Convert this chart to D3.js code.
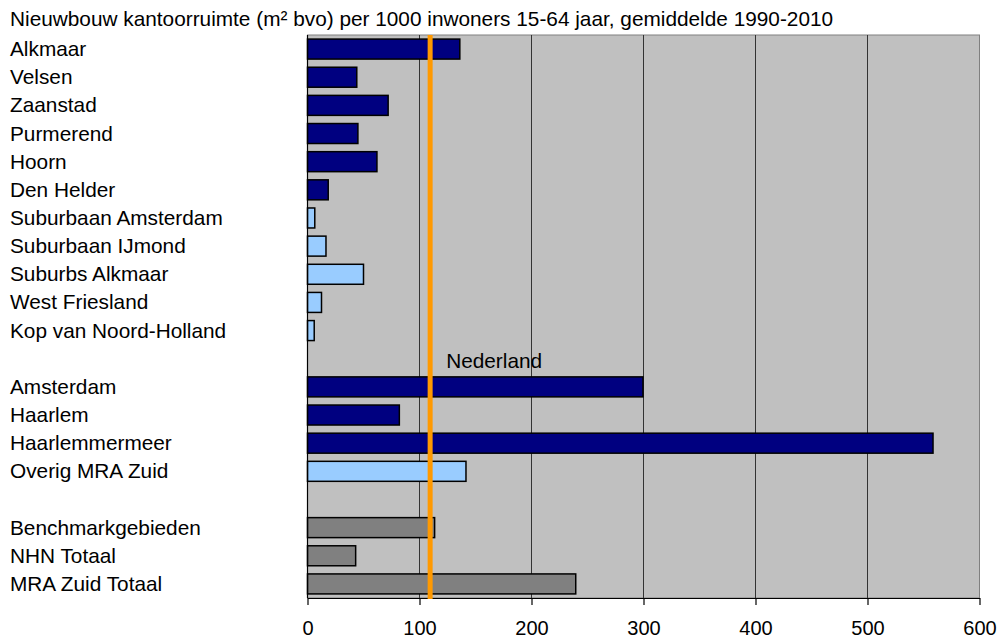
<!DOCTYPE html>
<html><head><meta charset="utf-8">
<script src="https://cdn.jsdelivr.net/npm/d3@7/dist/d3.min.js"></script>
<style>body{margin:0;background:#fff}svg{display:block}text{font-family:"Liberation Sans",Arial,sans-serif}</style>
</head><body>
<svg id="c" width="999" height="639"></svg>
<script>
const title = "Nieuwbouw kantoorruimte (m² bvo) per 1000 inwoners 15-64 jaar, gemiddelde 1990-2010";
const categories = ["Alkmaar","Velsen","Zaanstad","Purmerend","Hoorn","Den Helder","Suburbaan Amsterdam","Suburbaan IJmond","Suburbs Alkmaar","West Friesland","Kop van Noord-Holland","gap1","Amsterdam","Haarlem","Haarlemmermeer","Overig MRA Zuid","gap2","Benchmarkgebieden","NHN Totaal","MRA Zuid Totaal"];
const values = [136,44,72,45,62,18.5,6.5,16.5,50,12.5,6,null,299.5,82,558.5,141.5,null,113.5,43,239.5];
const groups = ["city","city","city","city","city","city","sub","sub","sub","sub","sub",null,"city","city","city","sub",null,"total","total","total"];
const xTicks = [0,100,200,300,400,500,600];
const nederland = 109.5;
const nederlandLabel = "Nederland";

const colors = {city:"#000080", sub:"#99CCFF", total:"#808080"};
const FS = 20.8;
const svg = d3.select("#c");
const L = 307.5, R = 979.5, T = 35, B = 598;
const x = d3.scaleLinear().domain([0,600]).range([L,R]);
const y = d3.scaleBand().domain(categories).range([T,B]).paddingInner(0.29).paddingOuter(0.145);

svg.append("rect").attr("x",L).attr("y",T).attr("width",R-L).attr("height",B-T).attr("fill","#C0C0C0").attr("stroke","#808080").attr("stroke-width",1);

svg.append("g").selectAll("line").data(xTicks.filter(d=>d>0&&d<600)).join("line")
  .attr("x1",d=>x(d)).attr("x2",d=>x(d)).attr("y1",T).attr("y2",B)
  .attr("stroke","#333").attr("stroke-width",1);

const data = categories.map((c,i)=>({c,v:values[i],g:groups[i]})).filter(d=>d.v!=null);
svg.append("g").selectAll("rect").data(data).join("rect")
  .attr("x",x(0)).attr("y",d=>y(d.c)).attr("width",d=>x(d.v)-x(0)).attr("height",y.bandwidth())
  .attr("fill",d=>colors[d.g]).attr("stroke","#000").attr("stroke-width",1.5);

// left axis line
svg.append("line").attr("x1",L).attr("x2",L).attr("y1",T).attr("y2",B).attr("stroke","#000").attr("stroke-width",1.2);

// x axis
const xa = svg.append("g").attr("transform",`translate(0,${B})`)
  .call(d3.axisBottom(x).tickValues(xTicks).tickSize(7).tickSizeOuter(0));
xa.select(".domain").attr("stroke","#000").attr("stroke-width",1.2);
xa.selectAll(".tick line").attr("stroke","#000").attr("stroke-width",1.2);
xa.selectAll("text").attr("font-size",20).attr("fill","#000").attr("dy",null).attr("y",37)
  .attr("font-family","Liberation Sans, Arial, sans-serif");

// Nederland line
svg.append("line").attr("x1",x(nederland)).attr("x2",x(nederland)).attr("y1",T).attr("y2",B+1)
  .attr("stroke","#FF9900").attr("stroke-width",5);
svg.append("text").attr("x",x(nederland)+16).attr("y",y("gap1")+y.bandwidth()/2+9)
  .attr("font-size",FS).attr("fill","#000").text(nederlandLabel);

// category labels
svg.append("g").selectAll("text").data(categories.filter((c,i)=>values[i]!=null)).join("text")
  .attr("x",10).attr("y",d=>y(d)+y.bandwidth()/2+7).attr("font-size",FS).attr("fill","#000").text(d=>d);

svg.append("text").attr("x",10).attr("y",26).attr("font-size",FS).attr("fill","#000").text(title);
</script>
</body></html>
